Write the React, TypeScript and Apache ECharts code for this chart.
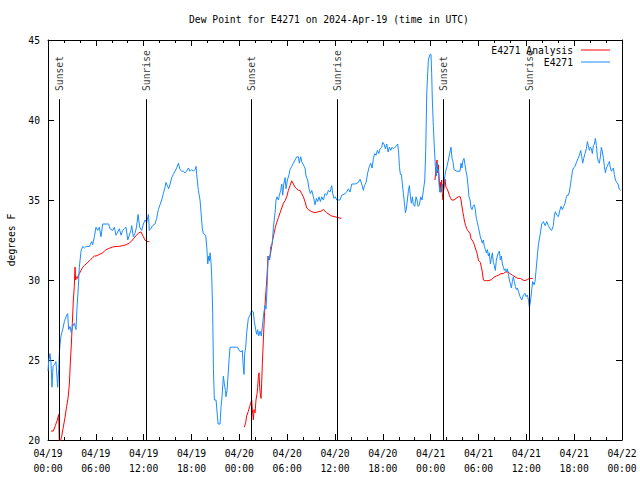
import React, { useEffect, useRef } from "react";
import * as echarts from "echarts";

// Hours since 04/19 00:00 UTC
const obsHours = [
  0.0, 0.08, 0.25, 0.38, 0.5, 0.63, 0.79, 1.0, 1.21, 1.34, 1.42, 1.51, 1.63, 1.84, 2.05, 2.26, 2.47, 2.59, 2.76, 2.93,
  3.09, 3.3, 3.51, 3.64, 3.81, 3.93, 4.14, 4.35, 4.56, 4.77, 5.19, 5.48, 5.6, 5.81, 6.02, 6.23, 6.44, 6.65, 6.86, 7.61,
  7.78, 8.11, 8.32, 8.53, 8.74, 8.95, 9.16, 9.37, 9.58, 9.79, 10.0, 10.2, 10.4, 10.5, 10.7, 10.9, 11.1, 11.3, 11.5, 11.75,
  11.96, 12.17, 12.38, 12.6, 12.71, 12.88, 13.13, 13.42, 13.63, 13.84, 14.05, 14.26, 14.47, 14.68, 14.8, 14.97, 15.14, 15.31, 15.52, 15.72,
  15.93, 16.14, 16.36, 16.56, 16.77, 16.98, 17.19, 17.4, 17.61, 17.82, 18.02, 18.24, 18.44, 18.57, 18.65, 18.86, 19.07, 19.2, 19.36, 19.49,
  19.78, 19.91, 20.04, 20.16, 20.24, 20.33, 20.45, 20.54, 20.66, 20.75, 20.87, 21.08, 21.25, 21.33, 21.58, 21.71, 21.83, 22.0, 22.12, 22.25,
  22.33, 22.46, 22.58, 22.71, 22.83, 23.25, 23.67, 23.79, 23.96, 24.21, 24.38, 24.46, 24.59, 24.67, 24.8, 24.92, 25.13, 25.34, 25.55, 25.76,
  25.88, 26.05, 26.18, 26.3, 26.43, 26.6, 26.76, 26.93, 27.06, 27.22, 27.35, 27.47, 27.6, 27.68, 27.81, 27.93, 28.14, 28.27, 28.48, 28.6,
  28.73, 28.9, 29.02, 29.19, 29.32, 29.44, 29.57, 29.74, 29.86, 30.03, 30.24, 30.36, 30.57, 30.78, 30.99, 31.2, 31.41, 31.53, 31.7, 31.82,
  32.03, 32.24, 32.37, 32.57, 32.74, 32.91, 33.08, 33.29, 33.5, 33.66, 33.83, 34.0, 34.17, 34.33, 34.54, 34.75, 34.96, 35.17, 35.38, 35.59,
  35.71, 35.88, 36.05, 36.22, 36.43, 36.63, 36.84, 37.26, 37.47, 37.68, 37.89, 38.1, 38.52, 38.93, 39.14, 39.35, 39.56, 39.69, 39.9, 40.1,
  40.31, 40.48, 40.65, 40.82, 40.98, 41.15, 41.32, 41.49, 41.65, 41.86, 41.99, 42.15, 42.32, 42.49, 42.66, 42.82, 42.99, 43.16, 43.33, 43.53,
  43.74, 43.87, 43.99, 44.08, 44.2, 44.33, 44.45, 44.58, 44.71, 44.83, 44.96, 45.08, 45.21, 45.33, 45.46, 45.58, 45.71, 45.83, 46.0, 46.17,
  46.29, 46.42, 46.59, 46.75, 46.92, 47.09, 47.26, 47.38, 47.51, 47.71, 47.92, 48.04, 48.13, 48.21, 48.34, 48.46, 48.59, 48.71, 48.8, 48.88,
  48.96, 49.05, 49.13, 49.3, 49.46, 49.59, 49.71, 49.88, 50.05, 50.22, 50.38, 50.55, 50.68, 50.8, 50.93, 51.26, 51.68, 51.81, 51.93, 52.06,
  52.18, 52.31, 52.43, 52.56, 52.68, 52.81, 52.94, 53.06, 53.19, 53.31, 53.48, 53.6, 53.73, 53.86, 53.98, 54.11, 54.23, 54.36, 54.48, 54.61,
  54.73, 54.86, 54.99, 55.11, 55.24, 55.36, 55.49, 55.61, 55.74, 55.86, 55.99, 56.11, 56.24, 56.36, 56.49, 56.62, 56.74, 56.87, 56.99, 57.12,
  57.24, 57.37, 57.49, 57.62, 57.74, 57.87, 57.99, 58.12, 58.25, 58.37, 58.5, 58.62, 58.75, 58.87, 59.0, 59.21, 59.42, 59.63, 59.84, 59.96,
  60.13, 60.3, 60.38, 60.55, 60.67, 60.8, 60.97, 61.09, 61.22, 61.38, 61.51, 61.72, 61.93, 62.14, 62.35, 62.56, 62.76, 62.97, 63.18, 63.39,
  63.52, 63.64, 63.81, 64.02, 64.23, 64.35, 64.52, 64.69, 64.86, 64.98, 65.11, 65.27, 65.4, 65.52, 65.65, 65.78, 65.9, 66.11, 66.32, 66.49,
  66.65, 66.82, 66.95, 67.07, 67.2, 67.36, 67.53, 67.66, 67.78, 67.91, 68.03, 68.16, 68.28, 68.41, 68.54, 68.66, 68.79, 68.91, 69.04, 69.16,
  69.29, 69.41, 69.54, 69.67, 69.79, 69.92, 70.04, 70.17, 70.29, 70.42, 70.54, 70.67, 70.79, 70.92, 71.04, 71.17, 71.34, 71.5, 71.63, 71.84,
];
const obsValues = [
  24.3, 24.9, 25.4, 24.8, 23.3, 24.6, 24.7, 24.9, 23.3, 24.4, 25.4, 26.0, 26.5, 26.9, 27.4, 27.7, 27.9, 26.9, 27.1, 26.7,
  27.1, 27.3, 26.9, 28.3, 29.6, 30.8, 31.8, 32.1, 32.0, 32.1, 32.1, 32.4, 32.2, 32.7, 33.3, 33.1, 33.3, 32.7, 33.5, 33.5,
  33.2, 33.1, 33.3, 32.8, 33.0, 33.2, 32.8, 33.1, 33.2, 33.3, 32.5, 32.8, 33.1, 33.4, 32.7, 32.9, 33.3, 34.1, 33.3, 33.1,
  33.5, 33.75, 33.6, 34.1, 33.1, 33.2, 33.4, 33.5, 33.85, 34.4, 34.7, 35.0, 35.4, 35.8, 36.1, 35.9, 35.7, 36.0, 36.4, 36.6,
  36.8, 37.0, 37.3, 36.9, 36.8, 36.8, 36.7, 36.8, 37.0, 36.8, 36.9, 36.8, 36.9, 37.1, 36.6, 35.6, 35.0, 34.2, 33.2, 32.9,
  32.8, 32.1, 31.0, 31.5, 31.2, 31.7, 31.1, 30.2, 27.9, 24.4, 22.5, 22.5, 21.5, 21.0, 21.0, 22.1, 22.7, 24.0, 23.5, 23.1,
  22.7, 23.1, 24.0, 25.0, 25.8, 25.8, 25.8, 25.8, 25.6, 25.5, 25.6, 24.8, 24.1, 25.4, 25.8, 26.7, 27.6, 27.8, 28.1, 28.0,
  27.4, 26.9, 26.6, 26.9, 26.5, 26.8, 26.5, 27.3, 27.9, 28.4, 28.2, 29.4, 31.25, 31.5, 31.25, 32.1, 32.3, 33.3, 34.2, 35.0,
  35.2, 35.0, 35.3, 35.6, 36.0, 35.3, 36.0, 36.4, 35.7, 36.25, 36.6, 36.9, 37.1, 37.3, 37.5, 37.7, 37.7, 37.3, 37.7, 37.4,
  37.2, 37.0, 36.5, 36.25, 35.7, 35.4, 35.6, 35.2, 34.7, 35.1, 34.9, 35.2, 34.9, 35.2, 35.0, 35.4, 35.3, 35.6, 35.5, 35.9,
  35.4, 35.1, 35.2, 35.0, 35.0, 35.0, 35.3, 35.4, 35.5, 35.7, 35.5, 36.0, 36.0, 36.1, 36.3, 36.0, 35.6, 35.9, 36.1, 36.7,
  37.1, 37.3, 37.0, 37.6, 37.9, 37.8, 38.1, 37.9, 38.2, 38.3, 38.6, 38.5, 38.2, 38.5, 38.0, 38.3, 38.1, 38.3, 38.2, 38.3,
  38.4, 38.5, 37.9, 37.1, 36.6, 36.6, 36.0, 35.4, 34.8, 34.2, 34.5, 35.0, 35.6, 35.9, 35.2, 34.8, 35.2, 34.7, 34.6, 35.2,
  35.0, 34.6, 34.7, 35.2, 35.0, 35.6, 36.25, 38.1, 41.7, 43.75, 44.1, 44.1, 42.9, 41.25, 39.6, 38.3, 37.1, 36.5, 37.3, 36.8,
  36.9, 36.0, 35.5, 35.5, 36.0, 35.6, 36.25, 36.8, 37.1, 37.5, 37.9, 38.3, 37.6, 37.4, 36.9, 36.8, 36.8, 37.3, 37.0, 37.5,
  37.6, 37.2, 36.8, 36.5, 35.9, 35.2, 35.0, 34.5, 34.4, 34.6, 34.7, 34.4, 33.85, 33.6, 33.3, 33.0, 32.7, 32.5, 32.3, 32.5,
  32.1, 31.9, 31.7, 31.9, 31.5, 31.7, 31.0, 31.35, 31.7, 31.1, 30.9, 30.6, 31.25, 31.5, 31.7, 31.8, 31.25, 31.5, 31.0, 30.8,
  30.6, 30.7, 30.5, 30.7, 30.4, 30.0, 29.8, 29.5, 29.9, 30.2, 29.9, 29.6, 29.4, 29.5, 29.3, 28.96, 28.75, 29.06, 29.17, 28.96,
  29.06, 28.65, 28.3, 28.75, 29.4, 29.9, 29.7, 29.9, 30.6, 31.5, 32.2, 32.8, 33.5, 33.65, 33.4, 33.65, 33.4, 33.2, 33.1, 33.4,
  34.06, 34.27, 34.06, 33.96, 34.4, 34.6, 34.4, 34.6, 34.8, 35.1, 35.3, 35.3, 35.5, 35.9, 36.35, 36.8, 37.0, 37.1, 37.4, 37.6,
  37.8, 38.1, 37.7, 37.3, 37.6, 37.9, 38.2, 38.65, 38.4, 38.1, 38.3, 38.2, 37.9, 38.4, 38.5, 38.85, 38.4, 37.7, 37.4, 37.3,
  37.7, 38.3, 38.0, 37.6, 37.1, 36.7, 37.0, 37.1, 37.3, 37.4, 37.0, 36.8, 36.9, 37.0, 36.6, 36.25, 36.1, 36.0, 35.7, 35.6,
];

const analysisHours1 = [
  0.38, 0.67, 0.92, 1.17, 1.34, 1.42, 1.55, 1.7, 1.92, 2.13, 2.34, 2.51, 2.68, 2.8, 2.93, 3.05, 3.18, 3.3, 3.39, 3.47,
  3.55, 3.68, 3.81, 3.93, 4.14, 4.35, 4.56, 4.77, 4.98, 5.19, 5.39, 5.6, 5.81, 6.02, 6.44, 6.86, 7.07, 7.28, 7.69, 8.11,
  8.53, 8.95, 9.37, 9.79, 10.2, 10.6, 11.0, 11.4, 11.67, 11.96, 12.17, 12.38, 12.71,
];
const analysisValues1 = [
  20.56, 20.56, 20.9, 21.25, 21.6, 19.8, 19.9, 20.2, 20.8, 21.4, 22.1, 22.6, 23.5, 24.8, 26.0, 27.3, 28.75, 29.6, 30.8, 30.0,
  30.2, 30.1, 30.3, 30.4, 30.6, 30.8, 30.9, 31.0, 31.1, 31.2, 31.3, 31.4, 31.5, 31.5, 31.6, 31.7, 31.8, 31.9, 31.98, 32.06,
  32.1, 32.1, 32.15, 32.2, 32.3, 32.5, 32.75, 32.96, 33.0, 32.7, 32.5, 32.4, 32.4,
];
const analysisHours2 = [
  24.63, 24.8, 24.92, 25.13, 25.3, 25.38, 25.55, 25.63, 25.76, 25.84, 25.97, 26.09, 26.22, 26.3, 26.39, 26.47, 26.55, 26.63, 26.72, 26.8,
  26.89, 27.01, 27.14, 27.26, 27.39, 27.51, 27.6, 27.68, 27.81, 27.93, 28.06, 28.18, 28.35, 28.52, 28.69, 28.9, 29.11, 29.32, 29.53, 29.74,
  29.95, 30.15, 30.36, 30.57, 30.78, 30.99, 31.2, 31.41, 31.62, 31.82, 32.03, 32.24, 32.45, 32.66, 33.08, 33.5, 33.92, 34.25, 34.54, 34.75,
  34.96, 35.25, 35.59, 36.0, 36.4, 36.8,
];
const analysisValues2 = [
  20.8, 21.1, 21.5, 21.8, 22.1, 22.1, 22.5, 21.9, 21.25, 21.9, 21.7, 22.5, 22.9, 23.3, 23.96, 24.2, 23.3, 22.9, 22.6, 23.5,
  24.8, 26.25, 27.7, 28.75, 29.6, 30.6, 31.5, 31.25, 31.4, 31.7, 32.1, 32.5, 32.9, 33.3, 33.6, 33.9, 34.2, 34.5, 34.8, 34.96,
  35.2, 35.6, 35.9, 36.2, 36.0, 35.8, 35.7, 35.6, 35.6, 35.4, 35.2, 34.9, 34.5, 34.4, 34.27, 34.2, 34.27, 34.3, 34.4, 34.3,
  34.2, 34.1, 34.0, 33.95, 33.9, 33.85,
];
const analysisHours3 = [
  48.54, 48.67, 48.8, 48.88, 48.96, 49.05, 49.13, 49.21, 49.3, 49.38, 49.46, 49.55, 49.63, 49.71, 49.8, 49.92, 50.05, 50.22, 50.34, 50.51,
  50.64, 50.93, 51.18, 51.47, 51.72, 51.81, 51.89, 52.02, 52.14, 52.27, 52.39, 52.52, 52.64, 52.81, 52.94, 53.06, 53.19, 53.31, 53.48, 53.6,
  53.73, 53.86, 53.98, 54.11, 54.23, 54.36, 54.48, 54.61, 54.73, 55.03, 55.32, 55.65, 55.95, 56.24, 56.53, 56.82, 57.12, 57.41, 57.7, 57.95,
  58.25, 58.58, 58.92, 59.25, 59.58, 59.84, 60.13, 60.46, 60.8,
];
const analysisValues3 = [
  36.25, 37.0, 37.5, 36.7, 37.2, 36.5, 35.8, 36.1, 35.5, 36.25, 35.4, 35.0, 35.6, 36.0, 36.3, 35.8, 35.7, 35.5, 35.3, 35.1,
  35.0, 35.0, 35.1, 35.2, 35.2, 35.0, 34.7, 34.3, 33.96, 33.6, 33.4, 33.2, 33.1, 33.0, 32.9, 32.6, 32.5, 32.4, 32.2, 32.0,
  31.8, 31.6, 31.25, 31.15, 31.1, 30.8, 30.5, 30.0, 29.96, 29.96, 29.96, 30.04, 30.17, 30.25, 30.3, 30.4, 30.4, 30.5, 30.5, 30.4,
  30.3, 30.2, 30.1, 30.1, 30.0, 29.96, 30.04, 30.1, 30.1,
];

const sunHours = [1.42, 12.38, 25.53, 36.29, 49.59, 60.38];
const sunLabels = ["Sunset", "Sunrise", "Sunset", "Sunrise", "Sunset", "Sunrise"];

const xTickDays = ["04/19", "04/20", "04/21", "04/22"];
const yMin = 20;
const yMax = 45;
const sunLineTop = 41.3;
const sunLabelBase = 41.75;

const FONT = "DejaVu Sans Mono";
const FS = 9.7;

function pairs(h: number[], v: number[]) {
  return h.map((t, i) => [t, v[i]]);
}

export default function App() {
  const ref = useRef<HTMLDivElement>(null);
  useEffect(() => {
    if (!ref.current) return;
    const chart = echarts.init(ref.current, null, { renderer: "svg" });
    const analysisData: any[] = [
      ...pairs(analysisHours1, analysisValues1),
      [analysisHours1[analysisHours1.length - 1], "-"],
      ...pairs(analysisHours2, analysisValues2),
      [analysisHours2[analysisHours2.length - 1], "-"],
      ...pairs(analysisHours3, analysisValues3),
    ];
    const axisCommonX = {
      type: "value" as const,
      min: 0,
      max: 72,
      interval: 6,
      axisLine: { show: true, onZero: false, lineStyle: { color: "#000", width: 1 } },
      axisTick: { show: true, inside: true, length: 6, lineStyle: { color: "#000" } },
      minorTick: { show: true, splitNumber: 3, length: 3, lineStyle: { color: "#000" } },
      splitLine: { show: false },
    };
    const axisCommonY = {
      type: "value" as const,
      min: yMin,
      max: yMax,
      interval: 5,
      axisLine: { show: true, onZero: false, lineStyle: { color: "#000", width: 1 } },
      axisTick: { show: true, inside: true, length: 6, lineStyle: { color: "#000" } },
      splitLine: { show: false },
    };
    chart.setOption({
      animation: false,
      backgroundColor: "#fff",
      title: {
        text: "Dew Point for E4271 on 2024-Apr-19 (time in UTC)",
        left: 189,
        top: 14,
        padding: 0,
        textStyle: { fontFamily: FONT, fontSize: FS, fontWeight: "normal", color: "#000" },
      },
      legend: {
        data: ["E4271 Analysis", "E4271"],
        orient: "vertical",
        right: 30,
        top: 44,
        padding: 0,
        align: "right",
        icon: "rect",
        itemWidth: 29,
        itemHeight: 1,
        itemGap: 0,
        textStyle: { fontFamily: FONT, fontSize: FS, color: "#000", lineHeight: 12, padding: [0, 3, 0, 0] },
      },
      grid: { left: 48, right: 18, top: 40, bottom: 40, containLabel: false, outerBoundsMode: "none" },
      xAxis: [
        {
          ...axisCommonX,
          position: "bottom",
          axisLabel: {
            margin: 6,
            fontFamily: FONT,
            fontSize: FS,
            color: "#000",
            lineHeight: 15,
            formatter: (val: number) => {
              const d = Math.floor(val / 24);
              const h = val - d * 24;
              return xTickDays[d] + "\n" + String(h).padStart(2, "0") + ":00";
            },
          },
        },
        { ...axisCommonX, position: "top", axisLabel: { show: false } },
      ],
      yAxis: [
        {
          ...axisCommonY,
          position: "left",
          name: "degrees F",
          nameLocation: "middle",
          nameGap: 32,
          nameTextStyle: { fontFamily: FONT, fontSize: FS, color: "#000" },
          axisLabel: { margin: 8, fontFamily: FONT, fontSize: FS, color: "#000" },
        },
        { ...axisCommonY, position: "right", axisLabel: { show: false } },
      ],
      series: [
        {
          name: "sun",
          type: "scatter",
          symbolSize: 0,
          silent: true,
          data: sunHours.map((h, i) => ({ value: [h, sunLabelBase], name: sunLabels[i] })),
          label: {
            show: true,
            position: "inside",
            rotate: 90,
            align: "left",
            verticalAlign: "middle",
            offset: [1, 0],
            formatter: (p: any) => p.name,
            fontFamily: FONT,
            fontSize: FS,
            color: "#000",
          },
          markLine: {
            silent: true,
            symbol: ["none", "none"],
            label: { show: false },
            lineStyle: { color: "#000", width: 1, type: "solid" },
            data: sunHours.map((h) => [{ coord: [h, sunLineTop] }, { coord: [h, yMin] }]),
          },
        },
        {
          name: "E4271 Analysis",
          type: "line",
          symbol: "none",
          showSymbol: false,
          connectNulls: false,
          lineStyle: { color: "#ff0000", width: 1 },
          itemStyle: { color: "#ff0000" },
          data: analysisData,
        },
        {
          name: "E4271",
          type: "line",
          symbol: "none",
          showSymbol: false,
          lineStyle: { color: "#1a8cff", width: 1 },
          itemStyle: { color: "#1a8cff" },
          data: pairs(obsHours, obsValues),
        },
      ],
    });
    return () => chart.dispose();
  }, []);
  return <div ref={ref} style={{ width: 640, height: 480, position: "absolute", left: 0, top: 0 }} />;
}
